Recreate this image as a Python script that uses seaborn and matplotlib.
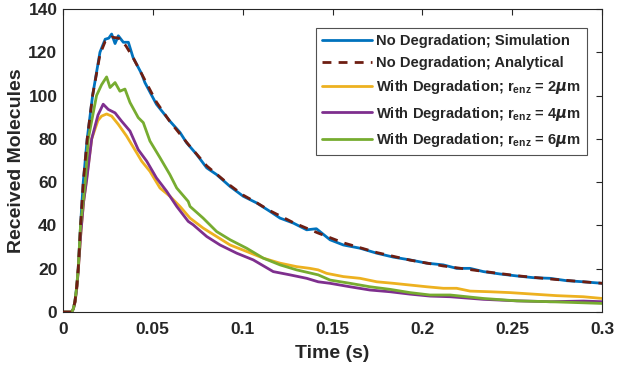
import numpy as np
import pandas as pd
import matplotlib
matplotlib.use("Agg")
import matplotlib.pyplot as plt
import seaborn as sns

# values (time in s, molecules)
t_sim = [0, 0.0048, 0.0058, 0.0067, 0.0077, 0.0085, 0.0098, 0.0113, 0.0135, 0.0165, 0.0206,
         0.0235, 0.0255, 0.0271, 0.029, 0.0308, 0.0336, 0.0364, 0.039, 0.0438, 0.0456,
         0.052, 0.0595, 0.0651, 0.0688, 0.0744, 0.08, 0.0855, 0.093, 0.1003, 0.1078,
         0.1152, 0.1208, 0.1282, 0.1356, 0.141, 0.1486, 0.156, 0.1653, 0.1746, 0.1838,
         0.1931, 0.2024, 0.2116, 0.219, 0.2265, 0.2339, 0.2432, 0.2525, 0.2617, 0.271,
         0.2803, 0.2895, 0.3]
v_sim = [0, 0, 1.5, 5, 12, 20, 40, 60, 80, 100, 120,
         126, 126.5, 128.4, 124, 127.6, 124.6, 124.6, 117.6, 110, 106,
         96, 88.2, 83, 78.2, 72.8, 66.6, 63.5, 58, 53.5, 50.4,
         46.5, 43.4, 41.1, 38, 38.5, 33.4, 31, 29.5, 27.2, 25.4,
         24.1, 22.6, 21.8, 20.2, 20.2, 18.7, 17.6, 16.7, 15.9, 15.6,
         14.5, 14, 13.3]

t_ana = [0, 0.0048, 0.0058, 0.0067, 0.0077, 0.0085, 0.0098, 0.0113, 0.0135, 0.0165, 0.0206,
         0.0235, 0.027, 0.031, 0.035, 0.039, 0.0438, 0.052, 0.0595, 0.0697, 0.08,
         0.093, 0.1003, 0.1078, 0.1152, 0.1282, 0.142, 0.156, 0.1746, 0.1931, 0.2116,
         0.2339, 0.2525, 0.271, 0.2895, 0.3]
v_ana = [0, 0, 1.5, 5, 12, 20, 40, 60, 80, 100, 119,
         125, 127, 126.5, 123, 117.5, 110, 97, 88, 77.5, 67.5,
         58.5, 54, 50.5, 46.8, 41.3, 36.5, 32, 27.5, 24, 21.3,
         18.8, 16.8, 15.3, 14, 13.3]

t_r2 = [0, 0.0048, 0.0058, 0.0067, 0.0077, 0.0085, 0.01, 0.0115, 0.0132, 0.016, 0.0195,
        0.0215, 0.0243, 0.0271, 0.0308, 0.0354, 0.041, 0.0438, 0.0484, 0.054, 0.0595,
        0.0651, 0.0707, 0.078, 0.0855, 0.093, 0.1022, 0.1115, 0.1208, 0.13, 0.1374,
        0.142, 0.1467, 0.156, 0.1653, 0.1746, 0.1838, 0.1931, 0.2024, 0.2116, 0.219,
        0.2265, 0.2376, 0.2488, 0.2617, 0.2747, 0.2895, 0.3]
v_r2 = [0, 0, 1.5, 4.5, 11, 19, 37, 51, 62, 80, 88.5,
        90.5, 91.5, 90.5, 86.7, 81.3, 73.6, 69.7, 65, 57.3, 53.5,
        48.8, 43.4, 38.8, 34.9, 31, 28, 24.9, 22.6, 21, 20.2,
        19.5, 17.9, 16.4, 15.6, 14, 13.3, 12.5, 11.7, 11, 11,
        9.7, 9.4, 9, 8.3, 7.6, 7.1, 6.3]

t_r4 = [0, 0.0048, 0.0058, 0.0067, 0.0077, 0.0085, 0.01, 0.0115, 0.0132, 0.016, 0.0195,
        0.0224, 0.0252, 0.029, 0.0326, 0.0373, 0.0419, 0.0466, 0.052, 0.0577, 0.0633,
        0.0697, 0.0725, 0.08, 0.0874, 0.0967, 0.1059, 0.117, 0.1263, 0.1356, 0.142,
        0.1486, 0.1597, 0.1708, 0.182, 0.1931, 0.2042, 0.2154, 0.2339, 0.2525, 0.271,
        0.2895, 0.3]
v_r4 = [0, 0, 1.5, 4.5, 11, 19, 37, 51, 61, 80, 91,
        96, 93.6, 92, 88.2, 83.6, 75, 69.7, 62, 55.8, 48.8,
        41.9, 40.3, 34.9, 31, 27.2, 24.1, 18.7, 17.2, 15.6, 14,
        13.3, 11.7, 10.2, 9.4, 8.3, 7.4, 7.1, 5.9, 5.2, 4.8,
        5.1, 4.8]

t_r6 = [0, 0.0048, 0.0058, 0.0067, 0.0077, 0.0085, 0.0098, 0.0124, 0.0141, 0.0187, 0.0215,
        0.0243, 0.0262, 0.029, 0.0317, 0.0345, 0.0373, 0.0419, 0.0447, 0.0484, 0.054,
        0.0595, 0.0633, 0.0697, 0.0707, 0.078, 0.0855, 0.093, 0.1022, 0.1115, 0.1208,
        0.13, 0.142, 0.1486, 0.1597, 0.1708, 0.182, 0.1931, 0.2042, 0.2154, 0.2339,
        0.2525, 0.271, 0.2895, 0.3]
v_r6 = [0, 0, 1.5, 5, 12, 20, 40, 60, 80, 100, 105,
        108.6, 103.7, 106, 102, 103, 96.8, 89.8, 87.5, 79, 71.3,
        63.5, 57.3, 51.1, 48.8, 43.4, 37.2, 33.4, 29.5, 24.9, 21.8,
        19.5, 17.2, 14.8, 13.3, 11.7, 10.5, 9, 7.9, 7.9, 6.3,
        5.2, 4.8, 4.3, 4]

labels = ["No Degradation; Simulation",
          "No Degradation; Analytical",
          r"With Degradation; r$_{\mathbf{enz}}$ = 2$\mathit{\mu}$m",
          r"With Degradation; r$_{\mathbf{enz}}$ = 4$\mathit{\mu}$m",
          r"With Degradation; r$_{\mathbf{enz}}$ = 6$\mathit{\mu}$m"]
colors = ["#0072BD", "#6E1E12", "#EDB120", "#7E2F8E", "#77AC30"]

sns.set_theme(style="white")
plt.rcParams["font.family"] = ["Liberation Sans", "DejaVu Sans"]
plt.rcParams["font.weight"] = "bold"
plt.rcParams["mathtext.fontset"] = "custom"
plt.rcParams["mathtext.rm"] = "Liberation Sans:bold"
plt.rcParams["mathtext.bf"] = "Liberation Sans:bold"
plt.rcParams["mathtext.it"] = "DejaVu Sans:italic"

fig, ax = plt.subplots(figsize=(6.17, 3.72), dpi=100)
fig.subplots_adjust(left=0.102, right=0.976, bottom=0.161, top=0.976)

series = [(t_sim, v_sim), (t_ana, v_ana), (t_r2, v_r2), (t_r4, v_r4), (t_r6, v_r6)]
draw_order = [0, 2, 3, 4, 1]
for i in draw_order:
    tt, vv = series[i]
    df = pd.DataFrame({"t": tt, "v": vv})
    sns.lineplot(data=df, x="t", y="v", ax=ax, color=colors[i], lw=2.0,
                 linestyle="--" if i == 1 else "-", label=labels[i],
                 dashes=False, zorder=3 if i == 1 else 2)
    if i == 1:
        ax.lines[-1].set_dashes((3.2, 2.6))

handles, labs = ax.get_legend_handles_labels()
order = [labs.index(l) for l in labels]
leg = ax.legend([handles[k] for k in order], [labs[k] for k in order],
                loc="upper right", bbox_to_anchor=(0.985, 0.96), fontsize=10.6,
                frameon=True, fancybox=False, edgecolor="#262626",
                handlelength=3.4, handletextpad=0.3, borderpad=0.4, labelspacing=0.55)
leg.get_frame().set_linewidth(0.8)
for txt in leg.get_texts():
    txt.set_fontweight("bold")

ax.set_xlim(0, 0.3)
ax.set_ylim(0, 140)
ax.set_xticks([0, 0.05, 0.1, 0.15, 0.2, 0.25, 0.3])
ax.set_xticklabels(["0", "0.05", "0.1", "0.15", "0.2", "0.25", "0.3"])
ax.set_yticks(range(0, 141, 20))
ax.tick_params(direction="in", length=4, width=0.8, top=True, right=True,
               labelsize=12.5, colors="#262626", labelcolor="#262626", pad=4)
ax.tick_params(axis="x", pad=7)
for lab in ax.get_xticklabels() + ax.get_yticklabels():
    lab.set_fontweight("bold")
for sp in ax.spines.values():
    sp.set_color("#262626")
    sp.set_linewidth(0.8)
ax.set_xlabel("Time (s)", fontsize=14, fontweight="bold", color="#262626", labelpad=6)
ax.set_ylabel("Received Molecules", fontsize=14, fontweight="bold", color="#262626", labelpad=2)

fig.savefig("out.png", dpi=100)
